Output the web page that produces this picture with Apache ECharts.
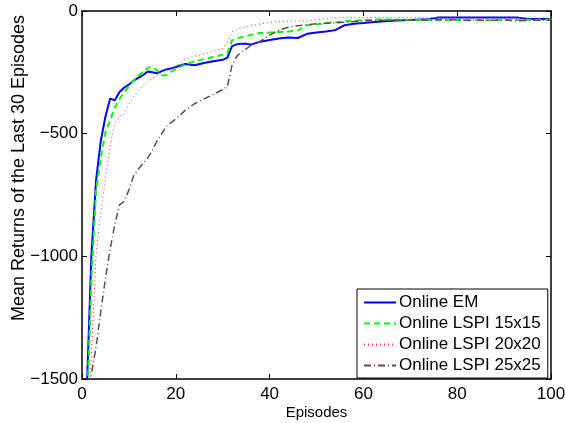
<!DOCTYPE html>
<html>
<head>
<meta charset="utf-8">
<script src="https://cdn.jsdelivr.net/npm/echarts@6/dist/echarts.min.js"></script>
<style>html,body{margin:0;padding:0;background:#fff}#c{width:565px;height:423px}</style>
</head>
<body>
<div id="c"></div>
<script>
const episodes = [1,2,3,4,5,6,7,8,9,10,11,12,13,14,15,16,17,18,19,20,22,24,26,28,30,31,32,33,34,35,36,38,40,42,44,46,48,50,52,54,56,58,60,63,66,70,74,76,80,85,90,93,95,100];
const onlineEM = [-1560,-1000,-690,-530,-430,-357,-364,-330,-312,-300,-284,-273,-261,-247,-250,-254,-245,-238,-234,-228,-216,-221,-212,-205,-199,-190,-143,-136,-134,-134,-137,-125,-118,-112,-108,-110,-93,-88,-84,-78,-58,-52,-49,-44,-40,-37,-34,-26,-26,-27,-26,-27,-33,-33];
const lspi15 = [-1650,-1100,-730,-600,-495,-445,-393,-360,-330,-308,-285,-265,-248,-232,-228,-242,-262,-262,-248,-237,-218,-206,-196,-187,-178,-172,-120,-112,-107,-102,-98,-90,-88,-86,-84,-80,-58,-55,-49,-46,-42,-39,-37,-35,-35,-37,-36,-38,-37,-38,-37,-37,-36,-35];
const lspi20 = [-1850,-1400,-990,-820,-680,-550,-458,-428,-420,-380,-348,-325,-305,-288,-275,-264,-254,-246,-236,-228,-195,-184,-176,-164,-153,-128,-85,-74,-69,-64,-60,-53,-47,-43,-42,-41,-39,-36,-32,-28,-27,-27,-27,-26,-27,-26,-27,-27,-28,-29,-28,-28,-29,-28];
const lspi25 = [-1640,-1480,-1370,-1225,-1090,-970,-870,-790,-775,-730,-672,-645,-622,-600,-568,-530,-500,-470,-455,-440,-405,-378,-358,-340,-320,-308,-220,-185,-165,-155,-140,-124,-98,-78,-66,-60,-56,-52,-50,-49,-46,-43,-40,-38,-37,-37,-37,-35,-37,-38,-38,-40,-38,-38];
const seriesNames = ['Online EM','Online LSPI 15x15','Online LSPI 20x20','Online LSPI 25x25'];
const xTicks = {min:0, max:100, interval:20};
const yTicks = {min:-1500, max:0, interval:500};

const FONT = 'Liberation Sans, Arial, Helvetica, sans-serif';
function pairs(v){ return episodes.map((e,i)=>[e,v[i]]); }
const styles = [
  {color:'#0000ff', width:2, type:'solid'},
  {color:'#00ff00', width:2, type:[6,4]},
  {color:'#ff3030', width:1, type:[1,3]},
  {color:'#6e4848', width:1.5, type:[7,3,1,3]}
];
const vals = [onlineEM, lspi15, lspi20, lspi25];
const axisLineStyle = {color:'#000', width:1.5};
const chart = echarts.init(document.getElementById('c'), null, {renderer:'canvas'});
chart.setOption({
  animation:false,
  backgroundColor:'#fff',
  grid:{left:82, top:11, right:14, bottom:44, containLabel:false, outerBoundsMode:'none'},
  legend:{
    data:seriesNames, orient:'vertical', left:357, top:289,
    backgroundColor:'#fff', borderColor:'#000', borderWidth:1, borderRadius:0,
    padding:[5,7,4,6], itemWidth:32, itemHeight:14, itemGap:4,
    itemStyle:{opacity:0},
    textStyle:{fontFamily:FONT, fontSize:17, color:'#000', padding:[0,0,0,-2]}
  },
  xAxis:[
    {type:'value', min:xTicks.min, max:xTicks.max, interval:xTicks.interval, position:'bottom',
     name:'Episodes', nameLocation:'middle', nameGap:26, nameMoveOverlap:false,
     nameTextStyle:{fontFamily:FONT, fontSize:15, color:'#000'},
     axisLine:{show:true, onZero:false, lineStyle:axisLineStyle},
     axisTick:{show:true, inside:true, length:5, lineStyle:{color:'#000', width:1}},
     axisLabel:{fontFamily:FONT, fontSize:17, color:'#000', margin:7},
     splitLine:{show:false}},
    {type:'value', min:xTicks.min, max:xTicks.max, interval:xTicks.interval, position:'top',
     axisLine:{show:true, onZero:false, lineStyle:axisLineStyle},
     axisTick:{show:true, inside:true, length:5, lineStyle:{color:'#000', width:1}},
     axisLabel:{show:false}, splitLine:{show:false}}
  ],
  yAxis:[
    {type:'value', min:yTicks.min, max:yTicks.max, interval:yTicks.interval, position:'left',
     name:'Mean Returns of the Last 30 Episodes', nameLocation:'middle', nameGap:54, nameMoveOverlap:false,
     nameTextStyle:{fontFamily:FONT, fontSize:18, color:'#000', padding:[0,0,0,54]},
     axisLine:{show:true, onZero:false, lineStyle:axisLineStyle},
     axisTick:{show:true, inside:true, length:5, lineStyle:{color:'#000', width:1}},
     axisLabel:{fontFamily:FONT, fontSize:17, color:'#000', margin:4,
       formatter:v=>String(v).replace('-','\u2212')},
     splitLine:{show:false}},
    {type:'value', min:yTicks.min, max:yTicks.max, interval:yTicks.interval, position:'right',
     axisLine:{show:true, onZero:false, lineStyle:axisLineStyle},
     axisTick:{show:true, inside:true, length:5, lineStyle:{color:'#000', width:1}},
     axisLabel:{show:false}, splitLine:{show:false}}
  ],
  series: seriesNames.map((n,i)=>({
    name:n, type:'line', data:pairs(vals[i]), symbol:'none', smooth:false, clip:true,
    xAxisIndex:0, yAxisIndex:0,
    lineStyle:{color:styles[i].color, width:styles[i].width, type:styles[i].type},
    itemStyle:{color:styles[i].color}
  }))
});
</script>
</body>
</html>
